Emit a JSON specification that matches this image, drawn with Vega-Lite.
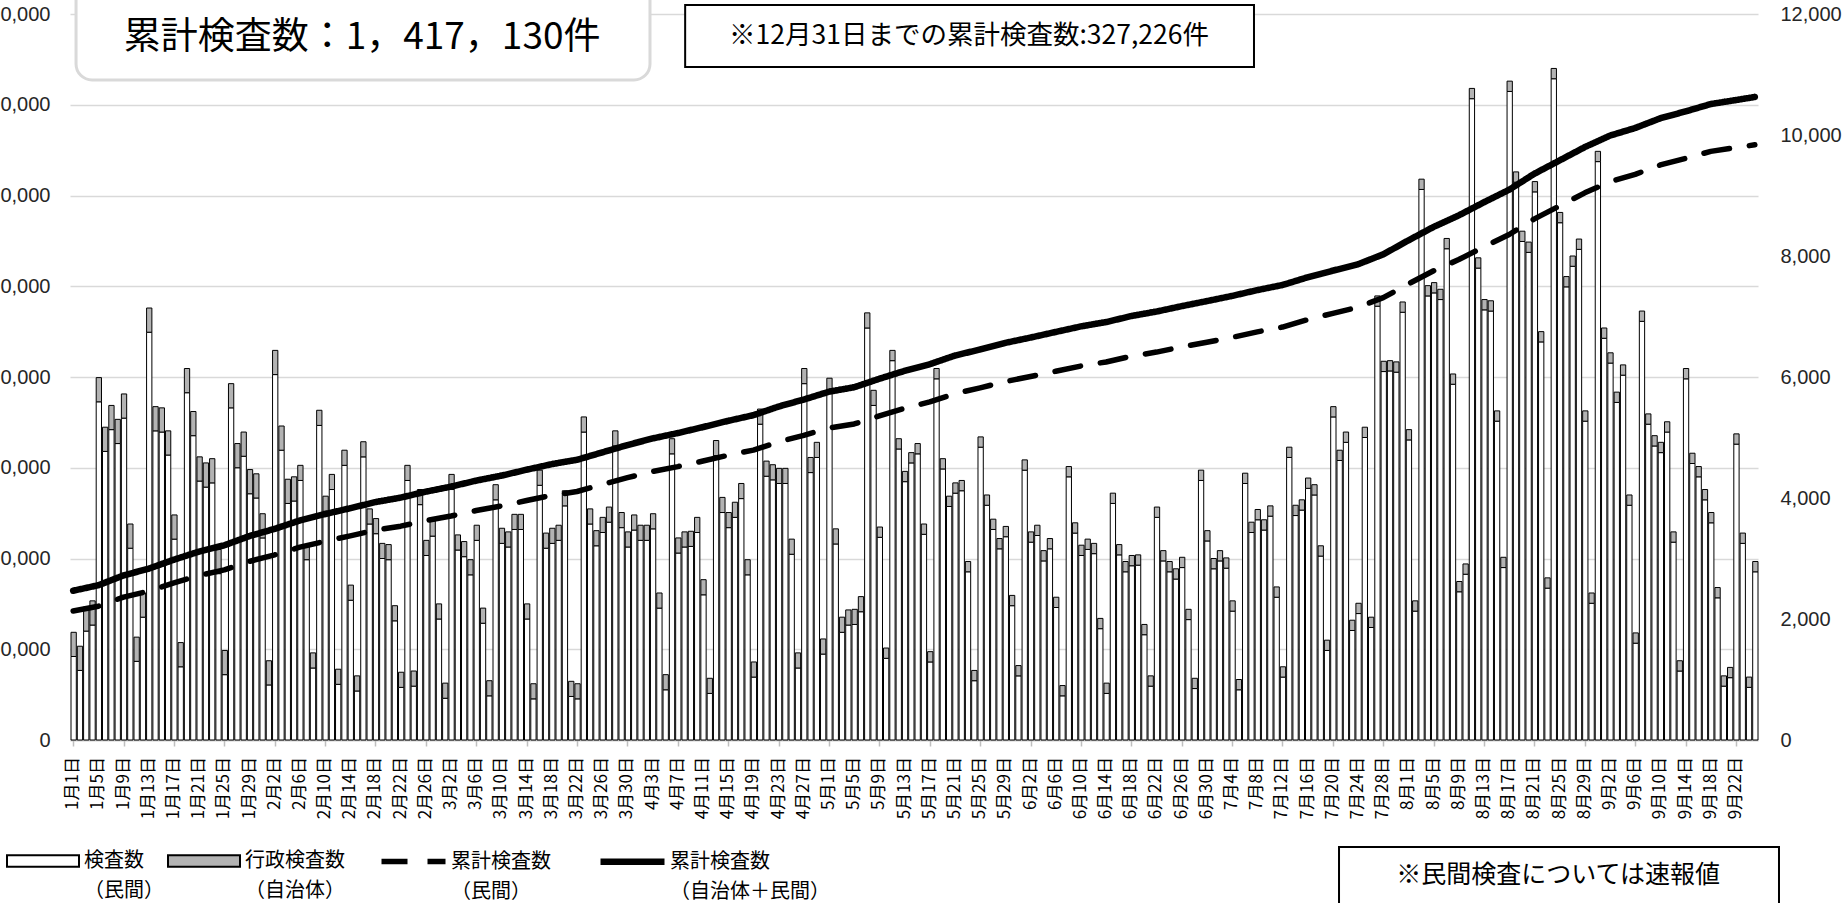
{
"$schema": "https://vega.github.io/schema/vega-lite/v6.json",
"width": 1688,
"height": 726,
"autosize": {"type": "none"},
"padding": {"left": 70, "top": 14, "right": 87, "bottom": 163},
"background": "white",
"config": {"view": {"stroke": null}, "font": "Liberation Sans", "style": {"guide-label": {"lineHeight": 30}}, "axis": {"labelOverlap": false, "labelFlush": false}},
"datasets": {
"daily": [
{"d":"2021-01-01","p":1380,"a":400},{"d":"2021-01-02","p":1150,"a":400},{"d":"2021-01-03","p":1800,"a":400},{"d":"2021-01-04","p":1900,"a":400},
{"d":"2021-01-05","p":5590,"a":400},{"d":"2021-01-06","p":4770,"a":400},{"d":"2021-01-07","p":5130,"a":400},{"d":"2021-01-08","p":4900,"a":400},
{"d":"2021-01-09","p":5320,"a":400},{"d":"2021-01-10","p":3170,"a":400},{"d":"2021-01-11","p":1300,"a":400},{"d":"2021-01-12","p":2030,"a":400},
{"d":"2021-01-13","p":6740,"a":400},{"d":"2021-01-14","p":5110,"a":400},{"d":"2021-01-15","p":5090,"a":400},{"d":"2021-01-16","p":4710,"a":400},
{"d":"2021-01-17","p":3320,"a":400},{"d":"2021-01-18","p":1210,"a":400},{"d":"2021-01-19","p":5740,"a":400},{"d":"2021-01-20","p":5030,"a":400},
{"d":"2021-01-21","p":4280,"a":400},{"d":"2021-01-22","p":4180,"a":400},{"d":"2021-01-23","p":4250,"a":400},{"d":"2021-01-24","p":2750,"a":400},
{"d":"2021-01-25","p":1080,"a":400},{"d":"2021-01-26","p":5490,"a":400},{"d":"2021-01-27","p":4500,"a":400},{"d":"2021-01-28","p":4690,"a":400},
{"d":"2021-01-29","p":4070,"a":400},{"d":"2021-01-30","p":4000,"a":400},{"d":"2021-01-31","p":3340,"a":400},{"d":"2021-02-01","p":910,"a":400},
{"d":"2021-02-02","p":6040,"a":400},{"d":"2021-02-03","p":4790,"a":400},{"d":"2021-02-04","p":3910,"a":400},{"d":"2021-02-05","p":3950,"a":400},
{"d":"2021-02-06","p":4290,"a":250},{"d":"2021-02-07","p":2980,"a":250},{"d":"2021-02-08","p":1190,"a":250},{"d":"2021-02-09","p":5200,"a":250},
{"d":"2021-02-10","p":3780,"a":250},{"d":"2021-02-11","p":4140,"a":250},{"d":"2021-02-12","p":920,"a":250},{"d":"2021-02-13","p":4540,"a":250},
{"d":"2021-02-14","p":2310,"a":250},{"d":"2021-02-15","p":810,"a":250},{"d":"2021-02-16","p":4680,"a":250},{"d":"2021-02-17","p":3570,"a":250},
{"d":"2021-02-18","p":3410,"a":250},{"d":"2021-02-19","p":3000,"a":250},{"d":"2021-02-20","p":2980,"a":250},{"d":"2021-02-21","p":1970,"a":250},
{"d":"2021-02-22","p":870,"a":250},{"d":"2021-02-23","p":4290,"a":250},{"d":"2021-02-24","p":890,"a":250},{"d":"2021-02-25","p":3890,"a":250},
{"d":"2021-02-26","p":3050,"a":250},{"d":"2021-02-27","p":3370,"a":250},{"d":"2021-02-28","p":2000,"a":250},{"d":"2021-03-01","p":690,"a":250},
{"d":"2021-03-02","p":4140,"a":250},{"d":"2021-03-03","p":3140,"a":250},{"d":"2021-03-04","p":3030,"a":250},{"d":"2021-03-05","p":2730,"a":250},
{"d":"2021-03-06","p":3300,"a":250},{"d":"2021-03-07","p":1930,"a":250},{"d":"2021-03-08","p":730,"a":250},{"d":"2021-03-09","p":3970,"a":250},
{"d":"2021-03-10","p":3250,"a":250},{"d":"2021-03-11","p":3190,"a":250},{"d":"2021-03-12","p":3480,"a":250},{"d":"2021-03-13","p":3480,"a":250},
{"d":"2021-03-14","p":2000,"a":250},{"d":"2021-03-15","p":680,"a":250},{"d":"2021-03-16","p":4210,"a":250},{"d":"2021-03-17","p":3170,"a":250},
{"d":"2021-03-18","p":3250,"a":250},{"d":"2021-03-19","p":3300,"a":250},{"d":"2021-03-20","p":3870,"a":250},{"d":"2021-03-21","p":720,"a":250},
{"d":"2021-03-22","p":680,"a":250},{"d":"2021-03-23","p":5090,"a":250},{"d":"2021-03-24","p":3570,"a":250},{"d":"2021-03-25","p":3210,"a":250},
{"d":"2021-03-26","p":3430,"a":250},{"d":"2021-03-27","p":3600,"a":250},{"d":"2021-03-28","p":4860,"a":250},{"d":"2021-03-29","p":3510,"a":250},
{"d":"2021-03-30","p":3190,"a":250},{"d":"2021-03-31","p":3470,"a":250},{"d":"2021-04-01","p":3300,"a":250},{"d":"2021-04-02","p":3300,"a":250},
{"d":"2021-04-03","p":3490,"a":250},{"d":"2021-04-04","p":2180,"a":250},{"d":"2021-04-05","p":830,"a":250},{"d":"2021-04-06","p":4730,"a":250},
{"d":"2021-04-07","p":3090,"a":250},{"d":"2021-04-08","p":3190,"a":250},{"d":"2021-04-09","p":3200,"a":250},{"d":"2021-04-10","p":3430,"a":250},
{"d":"2021-04-11","p":2400,"a":250},{"d":"2021-04-12","p":770,"a":250},{"d":"2021-04-13","p":4700,"a":250},{"d":"2021-04-14","p":3760,"a":250},
{"d":"2021-04-15","p":3510,"a":250},{"d":"2021-04-16","p":3680,"a":250},{"d":"2021-04-17","p":3990,"a":250},{"d":"2021-04-18","p":2730,"a":250},
{"d":"2021-04-19","p":1040,"a":250},{"d":"2021-04-20","p":5220,"a":250},{"d":"2021-04-21","p":4360,"a":250},{"d":"2021-04-22","p":4300,"a":250},
{"d":"2021-04-23","p":4240,"a":250},{"d":"2021-04-24","p":4240,"a":250},{"d":"2021-04-25","p":3070,"a":250},{"d":"2021-04-26","p":1190,"a":250},
{"d":"2021-04-27","p":5890,"a":250},{"d":"2021-04-28","p":4420,"a":250},{"d":"2021-04-29","p":4670,"a":250},{"d":"2021-04-30","p":1420,"a":250},
{"d":"2021-05-01","p":5730,"a":250},{"d":"2021-05-02","p":3240,"a":250},{"d":"2021-05-03","p":1780,"a":250},{"d":"2021-05-04","p":1900,"a":250},
{"d":"2021-05-05","p":1910,"a":250},{"d":"2021-05-06","p":2120,"a":250},{"d":"2021-05-07","p":6810,"a":250},{"d":"2021-05-08","p":5530,"a":250},
{"d":"2021-05-09","p":3350,"a":170},{"d":"2021-05-10","p":1350,"a":170},{"d":"2021-05-11","p":6270,"a":170},{"d":"2021-05-12","p":4810,"a":170},
{"d":"2021-05-13","p":4270,"a":170},{"d":"2021-05-14","p":4580,"a":170},{"d":"2021-05-15","p":4730,"a":170},{"d":"2021-05-16","p":3400,"a":170},
{"d":"2021-05-17","p":1290,"a":170},{"d":"2021-05-18","p":5970,"a":170},{"d":"2021-05-19","p":4480,"a":170},{"d":"2021-05-20","p":3860,"a":170},
{"d":"2021-05-21","p":4080,"a":170},{"d":"2021-05-22","p":4120,"a":170},{"d":"2021-05-23","p":2780,"a":170},{"d":"2021-05-24","p":980,"a":170},
{"d":"2021-05-25","p":4840,"a":170},{"d":"2021-05-26","p":3880,"a":170},{"d":"2021-05-27","p":3480,"a":170},{"d":"2021-05-28","p":3160,"a":170},
{"d":"2021-05-29","p":3360,"a":170},{"d":"2021-05-30","p":2220,"a":170},{"d":"2021-05-31","p":1060,"a":170},{"d":"2021-06-01","p":4460,"a":170},
{"d":"2021-06-02","p":3270,"a":170},{"d":"2021-06-03","p":3380,"a":170},{"d":"2021-06-04","p":2960,"a":170},{"d":"2021-06-05","p":3160,"a":170},
{"d":"2021-06-06","p":2190,"a":170},{"d":"2021-06-07","p":730,"a":170},{"d":"2021-06-08","p":4350,"a":170},{"d":"2021-06-09","p":3420,"a":170},
{"d":"2021-06-10","p":3050,"a":170},{"d":"2021-06-11","p":3150,"a":170},{"d":"2021-06-12","p":3080,"a":170},{"d":"2021-06-13","p":1840,"a":170},
{"d":"2021-06-14","p":770,"a":170},{"d":"2021-06-15","p":3910,"a":170},{"d":"2021-06-16","p":3060,"a":170},{"d":"2021-06-17","p":2780,"a":170},
{"d":"2021-06-18","p":2880,"a":170},{"d":"2021-06-19","p":2890,"a":170},{"d":"2021-06-20","p":1740,"a":170},{"d":"2021-06-21","p":890,"a":170},
{"d":"2021-06-22","p":3680,"a":170},{"d":"2021-06-23","p":2960,"a":170},{"d":"2021-06-24","p":2780,"a":170},{"d":"2021-06-25","p":2660,"a":170},
{"d":"2021-06-26","p":2850,"a":170},{"d":"2021-06-27","p":1990,"a":170},{"d":"2021-06-28","p":850,"a":170},{"d":"2021-06-29","p":4290,"a":170},
{"d":"2021-06-30","p":3290,"a":170},{"d":"2021-07-01","p":2830,"a":170},{"d":"2021-07-02","p":2960,"a":170},{"d":"2021-07-03","p":2840,"a":170},
{"d":"2021-07-04","p":2130,"a":170},{"d":"2021-07-05","p":830,"a":170},{"d":"2021-07-06","p":4240,"a":170},{"d":"2021-07-07","p":3430,"a":170},
{"d":"2021-07-08","p":3640,"a":170},{"d":"2021-07-09","p":3470,"a":170},{"d":"2021-07-10","p":3700,"a":170},{"d":"2021-07-11","p":2360,"a":170},
{"d":"2021-07-12","p":1040,"a":170},{"d":"2021-07-13","p":4670,"a":170},{"d":"2021-07-14","p":3710,"a":170},{"d":"2021-07-15","p":3800,"a":170},
{"d":"2021-07-16","p":4160,"a":170},{"d":"2021-07-17","p":4050,"a":170},{"d":"2021-07-18","p":3040,"a":170},{"d":"2021-07-19","p":1480,"a":170},
{"d":"2021-07-20","p":5340,"a":170},{"d":"2021-07-21","p":4620,"a":170},{"d":"2021-07-22","p":4920,"a":170},{"d":"2021-07-23","p":1810,"a":170},
{"d":"2021-07-24","p":2090,"a":170},{"d":"2021-07-25","p":5000,"a":170},{"d":"2021-07-26","p":1860,"a":170},{"d":"2021-07-27","p":7170,"a":170},
{"d":"2021-07-28","p":6090,"a":170},{"d":"2021-07-29","p":6100,"a":170},{"d":"2021-07-30","p":6080,"a":170},{"d":"2021-07-31","p":7070,"a":170},
{"d":"2021-08-01","p":4960,"a":170},{"d":"2021-08-02","p":2130,"a":170},{"d":"2021-08-03","p":9100,"a":170},{"d":"2021-08-04","p":7340,"a":170},
{"d":"2021-08-05","p":7390,"a":170},{"d":"2021-08-06","p":7280,"a":170},{"d":"2021-08-07","p":8120,"a":170},{"d":"2021-08-08","p":5880,"a":170},
{"d":"2021-08-09","p":2450,"a":170},{"d":"2021-08-10","p":2740,"a":170},{"d":"2021-08-11","p":10600,"a":170},{"d":"2021-08-12","p":7800,"a":170},
{"d":"2021-08-13","p":7110,"a":170},{"d":"2021-08-14","p":7090,"a":170},{"d":"2021-08-15","p":5270,"a":170},{"d":"2021-08-16","p":2850,"a":170},
{"d":"2021-08-17","p":10720,"a":170},{"d":"2021-08-18","p":9220,"a":170},{"d":"2021-08-19","p":8240,"a":170},{"d":"2021-08-20","p":8060,"a":170},
{"d":"2021-08-21","p":9060,"a":170},{"d":"2021-08-22","p":6580,"a":170},{"d":"2021-08-23","p":2510,"a":170},{"d":"2021-08-24","p":10930,"a":170},
{"d":"2021-08-25","p":8550,"a":170},{"d":"2021-08-26","p":7490,"a":170},{"d":"2021-08-27","p":7830,"a":170},{"d":"2021-08-28","p":8110,"a":170},
{"d":"2021-08-29","p":5270,"a":170},{"d":"2021-08-30","p":2260,"a":170},{"d":"2021-08-31","p":9560,"a":170},{"d":"2021-09-01","p":6640,"a":170},
{"d":"2021-09-02","p":6230,"a":170},{"d":"2021-09-03","p":5580,"a":170},{"d":"2021-09-04","p":6030,"a":170},{"d":"2021-09-05","p":3880,"a":170},
{"d":"2021-09-06","p":1600,"a":170},{"d":"2021-09-07","p":6920,"a":170},{"d":"2021-09-08","p":5220,"a":170},{"d":"2021-09-09","p":4860,"a":170},
{"d":"2021-09-10","p":4750,"a":170},{"d":"2021-09-11","p":5090,"a":170},{"d":"2021-09-12","p":3270,"a":170},{"d":"2021-09-13","p":1140,"a":170},
{"d":"2021-09-14","p":5970,"a":170},{"d":"2021-09-15","p":4570,"a":170},{"d":"2021-09-16","p":4350,"a":170},{"d":"2021-09-17","p":3970,"a":170},
{"d":"2021-09-18","p":3590,"a":170},{"d":"2021-09-19","p":2350,"a":170},{"d":"2021-09-20","p":890,"a":170},{"d":"2021-09-21","p":1030,"a":170},
{"d":"2021-09-22","p":4890,"a":170},{"d":"2021-09-23","p":3250,"a":170},{"d":"2021-09-24","p":870,"a":170},{"d":"2021-09-25","p":2780,"a":170}
],
"cum": [
{"d":"2021-01-01","m":284380,"t":329006},{"d":"2021-01-05","m":294820,"t":341046},{"d":"2021-01-09","m":314940,"t":362766},{"d":"2021-01-13","m":328180,"t":377606},
{"d":"2021-01-17","m":346410,"t":397436},{"d":"2021-01-21","m":362670,"t":415296},{"d":"2021-01-25","m":374930,"t":429156},{"d":"2021-01-29","m":393680,"t":449506},
{"d":"2021-02-02","m":407970,"t":465396},{"d":"2021-02-06","m":424910,"t":483786},{"d":"2021-02-10","m":438060,"t":497936},{"d":"2021-02-14","m":449970,"t":510846},
{"d":"2021-02-18","m":462440,"t":524316},{"d":"2021-02-22","m":471260,"t":534136},{"d":"2021-02-26","m":483380,"t":547256},{"d":"2021-03-02","m":493580,"t":558456},
{"d":"2021-03-06","m":505780,"t":571656},{"d":"2021-03-10","m":515660,"t":582536},{"d":"2021-03-14","m":527810,"t":595686},{"d":"2021-03-18","m":539120,"t":607996},
{"d":"2021-03-22","m":547690,"t":617566},{"d":"2021-03-26","m":562990,"t":633866},{"d":"2021-03-30","m":578150,"t":650026},{"d":"2021-04-03","m":591710,"t":664586},
{"d":"2021-04-07","m":602540,"t":676416},{"d":"2021-04-11","m":614760,"t":689636},{"d":"2021-04-15","m":627500,"t":703376},{"d":"2021-04-19","m":638940,"t":715816},
{"d":"2021-04-23","m":657060,"t":734936},{"d":"2021-04-27","m":671450,"t":750326},{"d":"2021-05-01","m":687690,"t":767566},{"d":"2021-05-05","m":696520,"t":777396},
{"d":"2021-05-09","m":714330,"t":796126},{"d":"2021-05-13","m":731030,"t":813506},{"d":"2021-05-17","m":745030,"t":828186},{"d":"2021-05-21","m":763420,"t":847256},
{"d":"2021-05-25","m":776140,"t":860656},{"d":"2021-05-29","m":790020,"t":875216},{"d":"2021-06-02","m":801030,"t":886906},{"d":"2021-06-06","m":812720,"t":899276},
{"d":"2021-06-10","m":824270,"t":911506},{"d":"2021-06-14","m":833110,"t":921026},{"d":"2021-06-18","m":845740,"t":934336},{"d":"2021-06-22","m":854940,"t":944216},
{"d":"2021-06-26","m":866190,"t":956146},{"d":"2021-06-30","m":876610,"t":967246},{"d":"2021-07-04","m":887370,"t":978686},{"d":"2021-07-08","m":899510,"t":991506},
{"d":"2021-07-12","m":910080,"t":1002756},{"d":"2021-07-16","m":926420,"t":1019776},{"d":"2021-07-20","m":940330,"t":1034366},{"d":"2021-07-24","m":953770,"t":1048486},
{"d":"2021-07-28","m":974890,"t":1070286},{"d":"2021-08-01","m":1005100,"t":1101176},{"d":"2021-08-05","m":1034060,"t":1130816},{"d":"2021-08-09","m":1058790,"t":1156226},
{"d":"2021-08-13","m":1087040,"t":1185156},{"d":"2021-08-17","m":1113970,"t":1212766},{"d":"2021-08-21","m":1148550,"t":1248026},{"d":"2021-08-25","m":1177120,"t":1277276},
{"d":"2021-08-29","m":1205820,"t":1306656},{"d":"2021-09-02","m":1230510,"t":1332026},{"d":"2021-09-06","m":1246600,"t":1348796},{"d":"2021-09-10","m":1267350,"t":1370226},
{"d":"2021-09-14","m":1281820,"t":1385376},{"d":"2021-09-18","m":1297300,"t":1401536},{"d":"2021-09-22","m":1305460,"t":1410376},{"d":"2021-09-25","m":1311704,"t":1417130}
],
"lab": [
{"d":"2021-01-01"},{"d":"2021-01-05"},{"d":"2021-01-09"},{"d":"2021-01-13"},{"d":"2021-01-17"},{"d":"2021-01-21"},{"d":"2021-01-25"},{"d":"2021-01-29"},
{"d":"2021-02-02"},{"d":"2021-02-06"},{"d":"2021-02-10"},{"d":"2021-02-14"},{"d":"2021-02-18"},{"d":"2021-02-22"},{"d":"2021-02-26"},
{"d":"2021-03-02"},{"d":"2021-03-06"},{"d":"2021-03-10"},{"d":"2021-03-14"},{"d":"2021-03-18"},{"d":"2021-03-22"},{"d":"2021-03-26"},{"d":"2021-03-30"},
{"d":"2021-04-03"},{"d":"2021-04-07"},{"d":"2021-04-11"},{"d":"2021-04-15"},{"d":"2021-04-19"},{"d":"2021-04-23"},{"d":"2021-04-27"},
{"d":"2021-05-01"},{"d":"2021-05-05"},{"d":"2021-05-09"},{"d":"2021-05-13"},{"d":"2021-05-17"},{"d":"2021-05-21"},{"d":"2021-05-25"},{"d":"2021-05-29"},
{"d":"2021-06-02"},{"d":"2021-06-06"},{"d":"2021-06-10"},{"d":"2021-06-14"},{"d":"2021-06-18"},{"d":"2021-06-22"},{"d":"2021-06-26"},{"d":"2021-06-30"},
{"d":"2021-07-04"},{"d":"2021-07-08"},{"d":"2021-07-12"},{"d":"2021-07-16"},{"d":"2021-07-20"},{"d":"2021-07-24"},{"d":"2021-07-28"},
{"d":"2021-08-01"},{"d":"2021-08-05"},{"d":"2021-08-09"},{"d":"2021-08-13"},{"d":"2021-08-17"},{"d":"2021-08-21"},{"d":"2021-08-25"},{"d":"2021-08-29"},
{"d":"2021-09-02"},{"d":"2021-09-06"},{"d":"2021-09-10"},{"d":"2021-09-14"},{"d":"2021-09-18"},{"d":"2021-09-22"}
]
},
"layer": [
{
"data": {"name": "daily"},
"transform": [{"fold": ["p", "a"], "as": ["k", "v"]}],
"mark": {"type": "bar", "stroke": "black", "strokeWidth": 1, "timeUnitBandSize": 0.72, "timeUnitBandPosition": 0.14},
"encoding": {
"x": {"field": "d", "type": "temporal", "timeUnit": "utcyearmonthdate",
"scale": {"domain": [{"year": 2021, "month": 1, "date": 1, "utc": true}, {"year": 2021, "month": 9, "date": 26, "utc": true}]},
"axis": {"values": [1609502400000,1609848000000,1610193600000,1610539200000,1610884800000,1611230400000,1611576000000,1611921600000,1612267200000,1612612800000,1612958400000,1613304000000,1613649600000,1613995200000,1614340800000,1614686400000,1615032000000,1615377600000,1615723200000,1616068800000,1616414400000,1616760000000,1617105600000,1617451200000,1617796800000,1618142400000,1618488000000,1618833600000,1619179200000,1619524800000,1619870400000,1620216000000,1620561600000,1620907200000,1621252800000,1621598400000,1621944000000,1622289600000,1622635200000,1622980800000,1623326400000,1623672000000,1624017600000,1624363200000,1624708800000,1625054400000,1625400000000,1625745600000,1626091200000,1626436800000,1626782400000,1627128000000,1627473600000,1627819200000,1628164800000,1628510400000,1628856000000,1629201600000,1629547200000,1629892800000,1630238400000,1630584000000,1630929600000,1631275200000,1631620800000,1631966400000,1632312000000],
"labels": false,
"tickSize": 6, "tickColor": "#bfbfbf", "tickWidth": 1.5, "domainColor": "#bfbfbf", "domainWidth": 1.5,
"grid": false, "title": null}},
"y": {"field": "v", "type": "quantitative", "stack": "zero",
"scale": {"domain": [0, 12000], "nice": false},
"axis": {"orient": "right", "values": [0, 2000, 4000, 6000, 8000, 10000, 12000], "format": ",d", "grid": false, "domain": false, "ticks": false,
"labelPadding": 22, "labelFontSize": 20, "labelColor": "#262626", "title": null, "labelOverlap": false, "labelFlush": false, "labelBound": false}},
"fill": {"field": "k", "type": "nominal",
"scale": {"domain": ["p", "a"], "range": ["#ffffff", "#b3b3b3"]},
"legend": {"title": null, "orient": "none", "legendX": -64, "legendY": 810, "direction": "horizontal", "columns": 2, "padding": 0,
"symbolType": "M-1,-0.16H1V0.16H-1Z", "symbolSize": 5184, "symbolStrokeColor": "black", "symbolStrokeWidth": 2,
"labelExpr": "datum.label == 'p' ? ['検査数', '（民間）'] : ['行政検査数', '（自治体）']",
"labelFont": "Noto Sans CJK JP", "labelFontSize": 20, "labelColor": "black", "labelOffset": 4, "columnPadding": 0, "labelLimit": 400, "labelBaseline": "middle"}},
"order": {"field": "k", "sort": "descending"}
}
},
{
"layer": [
{
"data": {"name": "cum"},
"transform": [{"fold": ["m", "t"], "as": ["s", "v"]}],
"mark": {"type": "line", "color": "black", "strokeCap": "round", "strokeJoin": "round"},
"encoding": {
"x": {"field": "d", "type": "temporal", "timeUnit": "utcyearmonthdate", "bandPosition": 0.5,
"scale": {"domain": [{"year": 2021, "month": 1, "date": 1, "utc": true}, {"year": 2021, "month": 9, "date": 26, "utc": true}]}},
"y": {"field": "v", "type": "quantitative", "scale": {"domain": [0, 1600000], "nice": false},
"axis": {"orient": "left", "values": [0, 200000, 400000, 600000, 800000, 1000000, 1200000, 1400000, 1600000], "format": ",d",
"grid": true, "gridColor": "#d9d9d9", "gridWidth": 1.5, "domain": false, "ticks": false, "labelPadding": 20, "labelFontSize": 20,
"labelColor": "#262626", "title": null, "labelOverlap": false, "labelFlush": false, "labelBound": false}},
"strokeDash": {"field": "s", "type": "nominal", "scale": {"domain": ["m", "t"], "range": [[26, 20], [1, 0]]},
"legend": {"title": null, "orient": "none", "legendX": 308, "legendY": 812, "direction": "horizontal", "columns": 2, "padding": 0,
"symbolType": "stroke", "symbolSize": 4096, "symbolStrokeWidth": 7, "symbolStrokeColor": "black",
"labelExpr": "datum.label == 'm' ? ['累計検査数', '（民間）'] : ['累計検査数', '（自治体＋民間）']",
"labelFont": "Noto Sans CJK JP", "labelFontSize": 20, "labelColor": "black", "labelOffset": 2, "columnPadding": 36, "labelLimit": 400, "labelBaseline": "middle"}},
"strokeWidth": {"field": "s", "type": "nominal", "scale": {"domain": ["m", "t"], "range": [5.5, 6.5]}, "legend": null}
}
},
{
"data": {"name": "lab"},
"mark": {"type": "text", "font": "Noto Sans CJK JP", "fontSize": 17, "angle": 270, "align": "right", "baseline": "middle", "color": "black"},
"encoding": {
"x": {"field": "d", "type": "temporal", "timeUnit": "utcyearmonthdate", "bandPosition": 0.5},
"y": {"datum": -37466, "type": "quantitative"},
"text": {"field": "d", "type": "temporal", "timeUnit": "utcyearmonthdate", "format": "%-m月%-d日"}
}
},
{
"data": {"values": [{}]},
"mark": {"type": "rect", "fill": "white", "stroke": "#d9d9d9", "strokeWidth": 3, "cornerRadius": 16},
"encoding": {
"x": {"datum": {"year": 2021, "month": 1, "date": 1, "hours": 23, "utc": true}, "type": "temporal"},
"x2": {"datum": {"year": 2021, "month": 4, "date": 3, "hours": 2, "utc": true}},
"y": {"datum": 1680000, "type": "quantitative"},
"y2": {"datum": 1454545}
}
},
{
"data": {"values": [{}]},
"mark": {"type": "text", "font": "Noto Sans CJK JP", "fontSize": 37, "align": "center", "baseline": "middle", "color": "black", "text": "累計検査数：1，417，130件"},
"encoding": {
"x": {"datum": {"year": 2021, "month": 2, "date": 16, "hours": 9, "utc": true}, "type": "temporal"},
"y": {"datum": 1547107, "type": "quantitative"}
}
},
{
"data": {"values": [{}]},
"mark": {"type": "rect", "fill": "white", "stroke": "black", "strokeWidth": 2},
"encoding": {
"x": {"datum": {"year": 2021, "month": 4, "date": 8, "hours": 16, "utc": true}, "type": "temporal"},
"x2": {"datum": {"year": 2021, "month": 7, "date": 7, "hours": 23, "minutes": 30, "utc": true}},
"y": {"datum": 1619835, "type": "quantitative"},
"y2": {"datum": 1483196}
}
},
{
"data": {"values": [{}]},
"mark": {"type": "text", "font": "Noto Sans CJK JP", "fontSize": 26.5, "align": "center", "baseline": "middle", "color": "black", "text": "※12月31日までの累計検査数:327,226件"},
"encoding": {
"x": {"datum": {"year": 2021, "month": 5, "date": 23, "hours": 17, "minutes": 30, "utc": true}, "type": "temporal"},
"y": {"datum": 1551515, "type": "quantitative"}
}
},
{
"data": {"values": [{}]},
"mark": {"type": "rect", "fill": "white", "stroke": "black", "strokeWidth": 2},
"encoding": {
"x": {"datum": {"year": 2021, "month": 7, "date": 21, "hours": 11, "minutes": 30, "utc": true}, "type": "temporal"},
"x2": {"datum": {"year": 2021, "month": 9, "date": 29, "hours": 8, "utc": true}},
"y": {"datum": -235813, "type": "quantitative"},
"y2": {"datum": -420000}
}
},
{
"data": {"values": [{}]},
"mark": {"type": "text", "font": "Noto Sans CJK JP", "fontSize": 25, "align": "center", "baseline": "middle", "color": "black", "text": "※民間検査については速報値"},
"encoding": {
"x": {"datum": {"year": 2021, "month": 8, "date": 25, "hours": 6, "utc": true}, "type": "temporal"},
"y": {"datum": -297521, "type": "quantitative"}
}
}
]
}
],
"resolve": {"scale": {"y": "independent"}}
}
